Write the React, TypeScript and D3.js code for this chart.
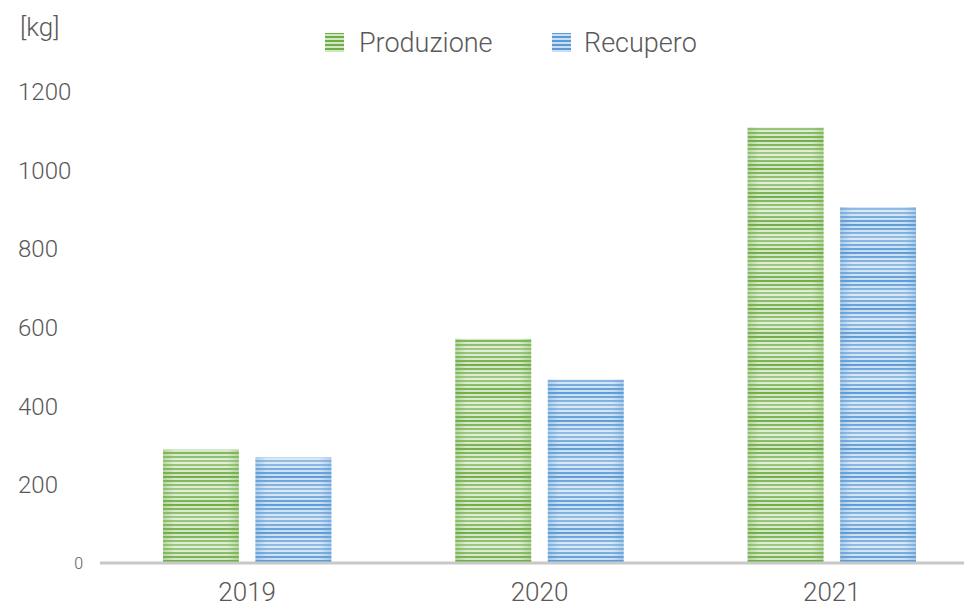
import React from "react";
import * as d3 from "d3";

const categories = ["2019", "2020", "2021"];
const produzione = [288, 570, 1107];
const recupero = [268, 466, 905];
const yTicks = [0, 200, 400, 600, 800, 1000, 1200];
const seriesNames = ["Produzione", "Recupero"];

const W = 964;
const H = 608;
const FONT = "Roboto, 'Open Sans', sans-serif";
const TEXT = "#595959";

export default function App() {
  const y = d3.scaleLinear().domain([0, 1200]).range([563, 91]);
  const x0 = d3.scaleBand().domain(categories).range([101, 978]).paddingInner(0).paddingOuter(0);
  const x1 = d3.scaleBand().domain(seriesNames).range([62, x0.bandwidth() - 62]).paddingInner(0.18);

  const colors = [
    { dark: "#70ad47", light: "#d2e7c4", id: "g" },
    { dark: "#5b9bd5", light: "#c9def2", id: "b" },
  ];

  const data = [produzione, recupero];

  return (
    <svg width={W} height={H} style={{ position: "absolute", left: 0, top: 0 }}>
      <defs>
        {colors.map((c) => (
          <React.Fragment key={c.id}>
            <pattern id={`stripe-${c.id}`} width="8" height="4" patternUnits="userSpaceOnUse">
              <rect x="0" y="0" width="8" height="4" fill={c.light} />
              <rect x="0" y="0" width="8" height="2" fill={c.dark} />
            </pattern>
            <linearGradient id={`band-${c.id}`} x1="0" y1="0" x2="0" y2="28" gradientUnits="userSpaceOnUse" spreadMethod="repeat">
              <stop offset="0" stopColor="#ffffff" stopOpacity="0" />
              <stop offset="0.5" stopColor="#ffffff" stopOpacity="0.35" />
              <stop offset="1" stopColor="#ffffff" stopOpacity="0" />
            </linearGradient>
            <linearGradient id={`edge-${c.id}`} x1="0" y1="0" x2="1" y2="0">
              <stop offset="0" stopColor={c.dark} stopOpacity="0.35" />
              <stop offset="0.15" stopColor={c.dark} stopOpacity="0" />
              <stop offset="0.85" stopColor={c.dark} stopOpacity="0" />
              <stop offset="1" stopColor={c.dark} stopOpacity="0.35" />
            </linearGradient>
          </React.Fragment>
        ))}
      </defs>

      {/* unit label */}
      <text x={20} y={36} fontFamily={FONT} fontWeight={300} fontSize={26} fill={TEXT}>
        [kg]
      </text>

      {/* y tick labels */}
      {yTicks.map((t) =>
        t === 0 ? (
          <text key={t} x={83} y={y(t) + 6} textAnchor="end" fontFamily={FONT} fontWeight={300} fontSize={16} fill={TEXT}>
            {t}
          </text>
        ) : (
          <text key={t} x={18} y={y(t) + 9} fontFamily={FONT} fontWeight={300} fontSize={24} fill={TEXT}>
            {t}
          </text>
        )
      )}

      {/* bars */}
      {categories.map((cat, i) => (
        <g key={cat} transform={`translate(${x0(cat)},0)`}>
          {seriesNames.map((s, si) => {
            const c = colors[si];
            const v = data[si][i];
            const bx = x1(s) as number;
            const bw = x1.bandwidth();
            const by = y(v);
            const bh = y(0) - y(v);
            return (
              <g key={s}>
                <rect x={bx} y={by} width={bw} height={bh} fill={`url(#stripe-${c.id})`} />
                <rect x={bx} y={by} width={bw} height={bh} fill={`url(#band-${c.id})`} />
                <rect x={bx} y={by} width={bw} height={bh} fill={`url(#edge-${c.id})`} />
              </g>
            );
          })}
        </g>
      ))}

      {/* x axis line */}
      <line x1={100} x2={964} y1={563} y2={563} stroke="#c8c8c8" strokeWidth={3} />

      {/* x labels */}
      {categories.map((cat) => (
        <text
          key={cat}
          x={(x0(cat) as number) + x0.bandwidth() / 2}
          y={601}
          textAnchor="middle"
          fontFamily={FONT}
          fontWeight={300}
          fontSize={26}
          fill={TEXT}
        >
          {cat}
        </text>
      ))}

      {/* legend */}
      {seriesNames.map((s, si) => {
        const lx = [325, 552][si];
        const tx = [359, 584][si];
        const c = colors[si];
        return (
          <g key={s}>
            <rect x={lx} y={33} width={19} height={19} fill={`url(#stripe-${c.id})`} />
            <text x={tx} y={52} fontFamily={FONT} fontWeight={300} fontSize={27} fill={TEXT}>
              {s}
            </text>
          </g>
        );
      })}
    </svg>
  );
}
